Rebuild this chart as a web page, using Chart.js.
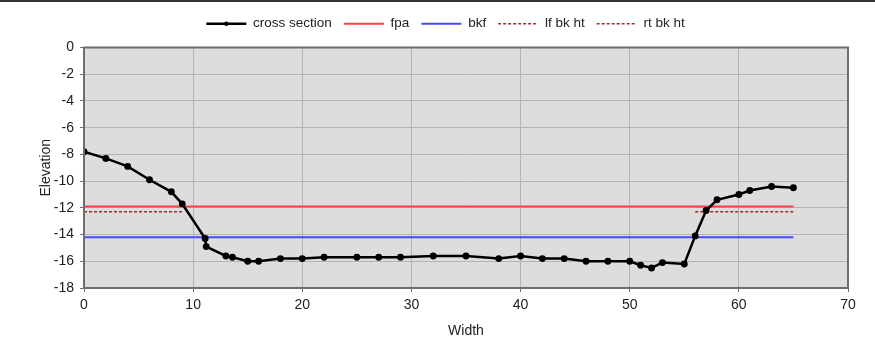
<!DOCTYPE html>
<html>
<head>
<meta charset="utf-8">
<script src="https://cdn.jsdelivr.net/npm/chart.js@4.4.0/dist/chart.umd.min.js"></script>
<style>
  html, body { margin: 0; padding: 0; background: #fff; }
  #wrap { position: relative; width: 875px; height: 347px; }
  #topbar { position: absolute; left: 0; top: 0; width: 875px; height: 2px; background: #333; }
</style>
</head>
<body>
<div id="wrap">
  <canvas id="xsChart" width="875" height="347"></canvas>
  <div id="topbar"></div>
</div>
<script>
// datos
const widthPts = [0, 2, 4, 6, 8, 9, 11.1, 11.2, 13, 13.6, 15, 16, 18, 20, 22, 25, 27, 29, 32, 35,
                  38, 40, 42, 44, 46, 48, 50, 51, 52, 53, 55, 56, 57, 58, 60, 61, 63, 65];
const elevPts  = [-7.8, -8.3, -8.9, -9.9, -10.8, -11.7, -14.3, -14.9, -15.6, -15.7, -16.0, -16.0, -15.8, -15.8, -15.7, -15.7, -15.7, -15.7, -15.6, -15.6,
                  -15.8, -15.6, -15.8, -15.8, -16.0, -16.0, -16.0, -16.3, -16.5, -16.1, -16.2, -14.1, -12.2, -11.4, -11.0, -10.7, -10.4, -10.5];

const fpaX = [0, 65];
const fpaY = [-11.9, -11.9];
const bkfX = [0, 65];
const bkfY = [-14.2, -14.2];
const lfBkX = [0, 9];
const lfBkY = [-12.3, -12.3];
const rtBkX = [56, 65];
const rtBkY = [-12.3, -12.3];

const xTicks = [0, 10, 20, 30, 40, 50, 60, 70];
const yTicks = [0, -2, -4, -6, -8, -10, -12, -14, -16, -18];

function toPoints(xs, ys) {
    return xs.map((x, i) => ({ x: x, y: ys[i] }));
}

// fondo gris y marco del area de trazado
const plotFrame = {
    id: 'plotFrame',
    beforeLayout(chart) {
        // espacio extra debajo de la leyenda
        const lg = chart.legend;
        if (lg && !lg._extraFit) {
            const orig = lg.fit;
            lg.fit = function () { orig.call(this); this.height += 7; };
            lg._extraFit = true;
        }
    },
    afterLayout(chart) {
        // la leyenda va un poco a la derecha
        const lg = chart.legend;
        if (lg) { lg.left += 6; lg.right += 6; }
    },
    beforeDraw(chart) {
        const { ctx, chartArea: a } = chart;
        ctx.save();
        ctx.fillStyle = '#dddddd';
        ctx.fillRect(a.left, a.top, a.right - a.left, a.bottom - a.top);
        ctx.restore();
    },
    afterDraw(chart) {
        const { ctx, chartArea: a } = chart;
        ctx.save();
        ctx.strokeStyle = '#6e6e6e';
        ctx.lineWidth = 2;
        ctx.strokeRect(a.left, a.top, a.right - a.left, a.bottom - a.top);
        // marcador en la muestra de leyenda de "cross section"
        const item = chart.legend.legendHitBoxes[0];
        if (item) {
            const bw = chart.legend.options.labels.boxWidth;
            ctx.fillStyle = '#000';
            ctx.beginPath();
            ctx.arc(item.left + bw / 2, item.top + item.height / 2, 2.2, 0, Math.PI * 2);
            ctx.fill();
        }
        ctx.restore();
    }
};

const FONT = "'Liberation Sans', Arial, sans-serif";

new Chart(document.getElementById('xsChart'), {
    type: 'scatter',
    data: {
        datasets: [
            {
                label: 'cross section',
                data: toPoints(widthPts, elevPts),
                showLine: true,
                borderColor: '#000000',
                backgroundColor: '#000000',
                borderWidth: 2.5,
                pointRadius: 2.2,
                pointHoverRadius: 2.2
            },
            {
                label: 'fpa',
                data: toPoints(fpaX, fpaY),
                showLine: true,
                borderColor: '#ff4040',
                backgroundColor: '#ff4040',
                borderWidth: 2,
                pointRadius: 0
            },
            {
                label: 'bkf',
                data: toPoints(bkfX, bkfY),
                showLine: true,
                borderColor: '#4848ff',
                backgroundColor: '#4848ff',
                borderWidth: 2,
                pointRadius: 0
            },
            {
                label: 'lf bk ht',
                data: toPoints(lfBkX, lfBkY),
                showLine: true,
                borderColor: '#a52a2a',
                backgroundColor: '#a52a2a',
                borderWidth: 1.5,
                borderDash: [3, 2],
                pointRadius: 0
            },
            {
                label: 'rt bk ht',
                data: toPoints(rtBkX, rtBkY),
                showLine: true,
                borderColor: '#a52a2a',
                backgroundColor: '#a52a2a',
                borderWidth: 1.5,
                borderDash: [3, 2],
                pointRadius: 0
            }
        ]
    },
    options: {
        responsive: false,
        animation: false,
        layout: { padding: { left: 31, right: 27, top: 5, bottom: 0 } },
        plugins: {
            tooltip: { enabled: false },
            legend: {
                position: 'top',
                labels: {
                    usePointStyle: true,
                    pointStyleWidth: 40,
                    boxWidth: 40,
                    boxHeight: 12,
                    padding: 12,
                    color: '#222',
                    font: { family: FONT, size: 13.5 },
                    generateLabels(chart) {
                        return chart.data.datasets.map((ds, i) => ({
                            text: ds.label,
                            datasetIndex: i,
                            pointStyle: 'line',
                            strokeStyle: ds.borderColor,
                            fillStyle: ds.borderColor,
                            lineWidth: ds.borderWidth,
                            lineDash: ds.borderDash || [],
                            fontColor: '#222'
                        }));
                    }
                }
            }
        },
        scales: {
            x: {
                type: 'linear',
                min: 0,
                max: 70,
                afterBuildTicks(scale) { scale.ticks = xTicks.map(v => ({ value: v })); },
                afterFit(scale) { scale.height = 59; },
                ticks: { color: '#222', padding: 5, font: { family: FONT, size: 14 } },
                grid: { color: '#b4b4b4', lineWidth: 1, tickLength: 4, tickColor: '#6e6e6e' },
                border: { color: '#6e6e6e', width: 2 },
                title: { display: true, text: 'Width', color: '#222', padding: { top: 4, bottom: 7 }, font: { family: FONT, size: 14 } }
            },
            y: {
                type: 'linear',
                min: -18,
                max: 0,
                afterBuildTicks(scale) { scale.ticks = yTicks.map(v => ({ value: v })); },
                afterFit(scale) { scale.width = 53; },
                ticks: { color: '#222', padding: 6, font: { family: FONT, size: 14 } },
                grid: { color: '#b4b4b4', lineWidth: 1, tickLength: 4, tickColor: '#6e6e6e' },
                border: { color: '#6e6e6e', width: 2 },
                title: { display: true, text: 'Elevation', color: '#222', padding: { top: 7, bottom: 4 }, font: { family: FONT, size: 14 } }
            }
        }
    },
    plugins: [plotFrame]
});
</script>
</body>
</html>
